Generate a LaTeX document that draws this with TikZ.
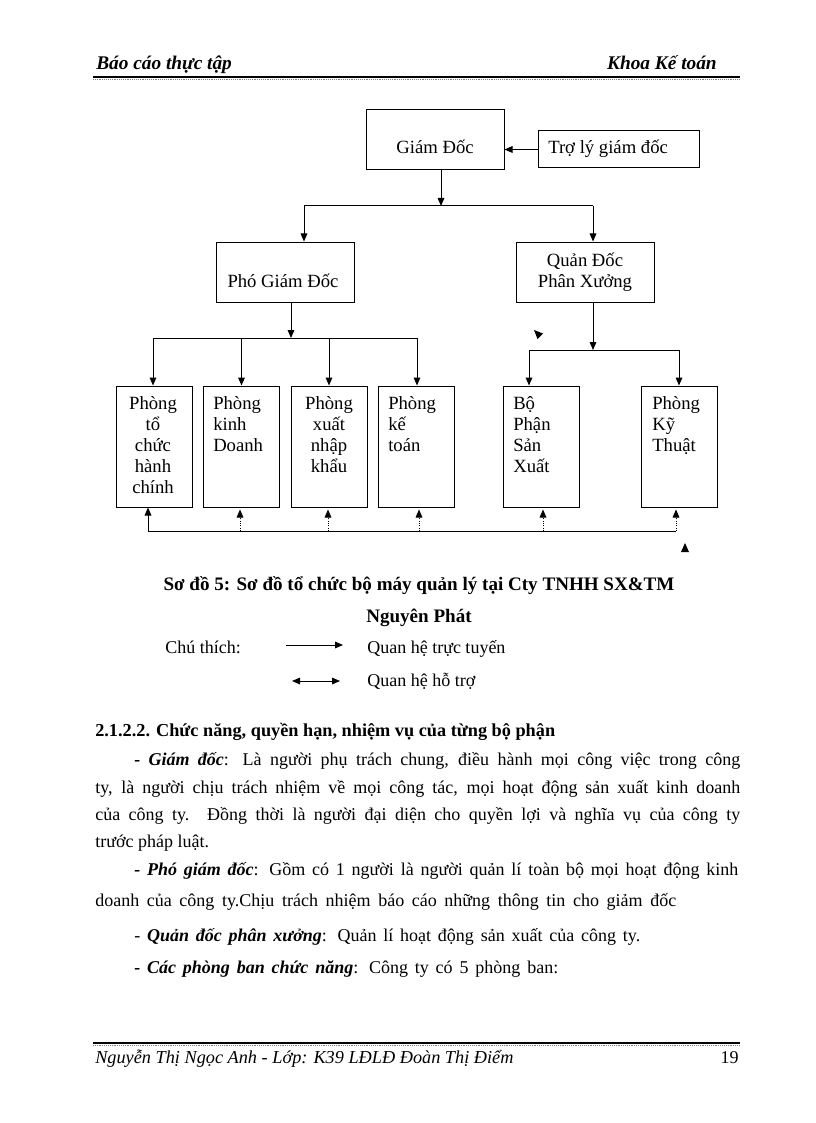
\documentclass[tikz,border=0pt]{standalone}
\usepackage{fontspec}
\setmainfont{Liberation Serif}
\usetikzlibrary{arrows.meta}
\begin{document}
\begin{tikzpicture}[x=0.75pt,y=-0.75pt,
  box/.style={draw, line width=0.75pt, inner sep=0pt},
  bbox/.style={box, minimum width=57pt, minimum height=90.75pt},
  mbox/.style={box, minimum width=103.5pt, minimum height=45pt},
  ln/.style={line width=0.75pt},
  tip/.tip={Triangle[length=6pt,width=5pt]},
  arr/.style={line width=0.75pt, -tip},
  sup/.style={line width=0.75pt, densely dotted, -tip},
  dbl/.style={line width=0.75pt, tip-tip},
  bt/.style={inner sep=0pt, font=\fontsize{14}{15.75}\selectfont},
  body/.style={inner sep=0pt, anchor=base west, font=\fontsize{13.5}{16}\selectfont},
  hdr/.style={inner sep=0pt, font=\fontsize{14.5}{16}\selectfont\bfseries\itshape},
  rule/.style={line width=1.5pt},
  thinrule/.style={line width=0.4pt, gray, densely dotted}
]
\useasboundingbox[fill=white] (0,0) rectangle (816,1123);

% header
\node[hdr, anchor=base west] (h1) at (96,70) {Báo cáo thực tập};
\node[hdr, anchor=base east] (h2) at (717,70) {Khoa Kế toán};
\coordinate (hl1) at (93,77); \coordinate (hl2) at (740,77);
\draw[rule] (hl1) -- (hl2);
\coordinate (hl3) at (93,79.5); \coordinate (hl4) at (740,79.5);
\draw[thinrule] (hl3) -- (hl4);

% boxes
\node[mbox] (gd) at (435,140) {};
\node[box, minimum width=120.75pt, minimum height=27.75pt] (tl) at (618.5,149.5) {};
\node[mbox] (pgd) at (285,272) {};
\node[mbox] (qd) at (585,272) {};
\node[bbox] (b1) at (154,446.5) {};
\node[bbox] (b2) at (241.5,446.5) {};
\node[bbox] (b3) at (329,446.5) {};
\node[bbox] (b4) at (416.5,446.5) {};
\node[bbox] (b5) at (541,446.5) {};
\node[bbox] (b6) at (679.5,446.5) {};

% box texts
\node[bt, anchor=base] (gdt) at (435,154) {Giám Đốc};
\node[bt, anchor=base west] (tlt) at (548,154) {Trợ lý giám đốc};
\node[bt, anchor=base] (pgdt) at (283,287) {Phó Giám Đốc};
\node[bt, anchor=base] (qdt) at (585,266) {\parbox[t]{100pt}{\centering Quản Đốc\\Phân Xưởng}};
\node[bt, anchor=base] (b1t) at (153,409) {\parbox[t]{57pt}{\centering Phòng\\tổ\\chức\\hành\\chính}};
\node[bt, anchor=base west] (b2t) at (213,409) {\parbox[t]{50pt}{\raggedright Phòng\\kinh\\Doanh}};
\node[bt, anchor=base] (b3t) at (329,409) {\parbox[t]{57pt}{\centering Phòng\\xuất\\nhập\\khẩu}};
\node[bt, anchor=base west] (b4t) at (388,409) {\parbox[t]{50pt}{\raggedright Phòng\\kế\\toán}};
\node[bt, anchor=base west] (b5t) at (513,409) {\parbox[t]{50pt}{\raggedright Bộ\\Phận\\Sản\\Xuất}};
\node[bt, anchor=base west] (b6t) at (652,409) {\parbox[t]{50pt}{\raggedright Phòng\\Kỹ\\Thuật}};

% connectors
\draw[arr] (tl.west) -- (tl.west -| gd.east);
\coordinate (j0) at (441,206);
\coordinate (ja) at (304,206);
\coordinate (jb) at (593,206);
\draw[arr] (j0 |- gd.south) -- (j0);
\draw[ln] (ja) -- (jb);
\draw[arr] (ja) -- (ja |- pgd.north);
\draw[arr] (jb) -- (jb |- qd.north);

\coordinate (k0) at (291,338);
\coordinate (ka) at (153,338);
\coordinate (kb) at (417,338);
\draw[arr] (k0 |- pgd.south) -- (k0);
\draw[ln] (ka) -- (kb);
\draw[arr] (ka) -- (ka |- b1.north);
\draw[arr] (b2.north |- ka) -- (b2.north);
\draw[arr] (b3.north |- ka) -- (b3.north);
\draw[arr] (kb) -- (kb |- b4.north);

\coordinate (m0) at (593,350);
\coordinate (ma) at (529,350);
\coordinate (mb) at (679,350);
\draw[arr] (m0 |- qd.south) -- (m0);
\draw[ln] (ma) -- (mb);
\draw[arr] (ma) -- (ma |- b5.north);
\draw[arr] (mb) -- (mb |- b6.north);

% support line
\coordinate (s1) at (148,531);
\coordinate (s2) at (240,531);
\coordinate (s3) at (328,531);
\coordinate (s4) at (419,531);
\coordinate (s5) at (543,531);
\coordinate (s6) at (676,531);
\draw[ln] (s1) -- (s6);
\draw[arr] (s1) -- (s1 |- b1.south);
\draw[sup] (s2) -- ([yshift=-1.5pt]s2 |- b2.south);
\draw[sup] (s3) -- ([yshift=-1.5pt]s3 |- b3.south);
\draw[sup] (s4) -- ([yshift=-1.5pt]s4 |- b4.south);
\draw[sup] (s5) -- ([yshift=-1.5pt]s5 |- b5.south);
\draw[sup] (s6) -- ([yshift=-1.5pt]s6 |- b6.south);

% stray arrowheads
\fill (534,330) -- (543,333.5) -- (537.5,339) -- cycle;
\fill (685,543) -- (689,552) -- (681,552) -- cycle;

% caption
\node[inner sep=0pt, anchor=base, font=\fontsize{14.3}{16}\selectfont\bfseries] (cap1) at (419,590) {Sơ đồ 5: Sơ đồ tổ chức bộ máy quản lý tại Cty TNHH SX\&TM};
\node[inner sep=0pt, anchor=base, font=\fontsize{14.3}{16}\selectfont\bfseries] (cap2) at (419,622) {Nguyên Phát};

% legend
\node[body] (ct) at (165,653) {Chú thích:};
\coordinate (la1) at (286,645); \coordinate (la2) at (343,645);
\draw[arr] (la1) -- (la2);
\node[body] (lg1) at (367,653) {Quan hệ trực tuyến};
\coordinate (lb1) at (292,681); \coordinate (lb2) at (340,681);
\draw[dbl] (lb1) -- (lb2);
\node[body] (lg2) at (367,686) {Quan hệ hỗ trợ};

% body text
\node[body, font=\fontsize{13.7}{16}\selectfont\bfseries] (sec) at (95,736) {2.1.2.2. Chức năng, quyền hạn, nhiệm vụ của từng bộ phận};
\node[body] (p1) at (134,765) {\makebox[454.5pt][s]{\textbf{\textit{- Giám đốc}}: Là người phụ trách chung, điều hành mọi công việc trong công}};
\node[body] (p2) at (95,793) {\makebox[483.75pt][s]{ty, là người chịu trách nhiệm về mọi công tác, mọi hoạt động sản xuất kinh doanh}};
\node[body] (p3) at (95,820) {\makebox[483.75pt][s]{của công ty. Đồng thời là người đại diện cho quyền lợi và nghĩa vụ của công ty}};
\node[body] (p4) at (95,847) {trước pháp luật.};
\node[body] (p5) at (134,875) {\makebox[453pt][s]{\textbf{\textit{- Phó giám đốc}}: Gồm có 1 người là người quản lí toàn bộ mọi hoạt động kinh}};
\node[body] (p6) at (95,906) {\makebox[435.75pt][s]{doanh của công ty.Chịu trách nhiệm báo cáo những thông tin cho giảm đốc}};
\node[body] (p7) at (134,941) {\makebox[379.5pt][s]{- \textbf{\textit{Quản đốc phân xưởng}}: Quản lí hoạt động sản xuất của công ty.}};
\node[body] (p8) at (134,973) {\makebox[318pt][s]{\textbf{\textit{- Các phòng ban chức năng}}: Công ty có 5 phòng ban:}};

% footer
\coordinate (fl1) at (93,1043); \coordinate (fl2) at (740,1043);
\draw[rule] (fl1) -- (fl2);
\coordinate (fl3) at (93,1045.5); \coordinate (fl4) at (740,1045.5);
\draw[thinrule] (fl3) -- (fl4);
\node[body, font=\fontsize{13.7}{16}\selectfont\itshape] (ft) at (95,1063) {Nguyễn Thị Ngọc Anh - Lớp: K39 LĐLĐ Đoàn Thị Điểm};
\node[inner sep=0pt, anchor=base east, font=\fontsize{13.5}{16}\selectfont] (pg) at (739,1063) {19};
\end{tikzpicture}
\end{document}
